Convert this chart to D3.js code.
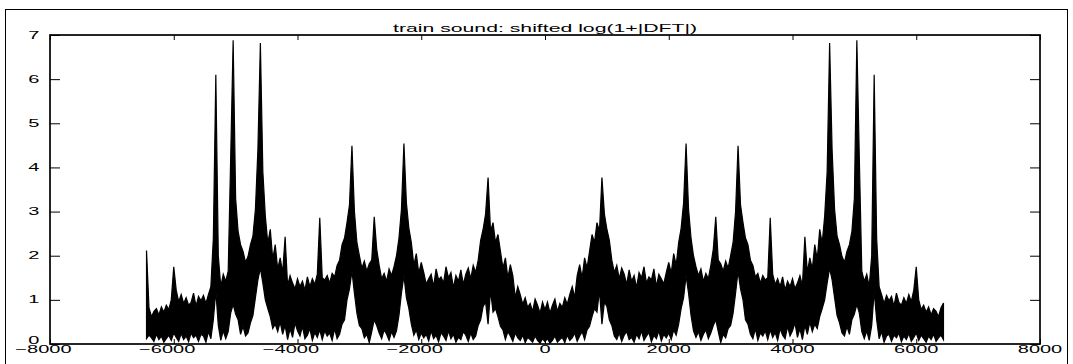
<!DOCTYPE html>
<html>
<head>
<meta charset="utf-8">
<script src="https://cdn.jsdelivr.net/npm/d3@7"></script>
<style>
  html, body { margin: 0; padding: 0; background: #fff; }
  svg { display: block; }
  text { font-family: "Liberation Sans", Arial, Helvetica, sans-serif; fill: #000; }
</style>
</head>
<body>
<svg id="chart" width="1073" height="364"></svg>
<script>
// Spectrum of the train recording: log(1+|DFT|), fftshift-ed so 0 Hz sits in the middle.
const title = "train sound: shifted log(1+|DFT|)";
const xTicks = [-8000, -6000, -4000, -2000, 0, 2000, 4000, 6000, 8000];
const yTicks = [0, 1, 2, 3, 4, 5, 6, 7];

// Frequency bins are 40 Hz apart, starting at 0 Hz.
const binHz = 40;

// Upper edge of the magnitude trace in each bin (0 .. 6440 Hz).
const magHi = [
  0.78, 0.95, 0.70, 0.88, 1.02, 0.74, 0.92, 0.83, 1.05, 0.90,
  1.12, 1.30, 1.05, 1.55, 1.80, 1.50, 1.95, 1.72, 2.10, 2.48,
  2.30, 2.75, 2.55, 3.77, 2.95, 2.60, 2.35, 1.90, 1.62, 1.78,
  1.48, 1.72, 1.58, 1.35, 1.68, 1.42, 1.55, 1.28, 1.62, 1.50,
  1.75, 1.38, 1.52, 1.45, 1.70, 1.30, 1.58, 1.48, 1.36, 1.62,
  1.85, 1.60, 2.05, 1.78, 2.30, 2.62, 3.20, 4.54, 3.05, 2.40,
  2.00, 1.75, 1.55, 1.70, 1.42, 1.60, 1.48, 1.78, 2.15, 2.88,
  1.90, 1.82, 1.65, 1.88, 1.72, 2.00, 2.30, 3.00, 4.49, 3.15,
  2.75, 2.40, 2.25, 1.90, 1.78, 1.52, 1.60, 1.38, 1.55, 1.45,
  1.50, 2.86, 1.58, 1.35, 1.48, 1.30, 1.52, 1.22, 1.42, 1.30,
  1.48, 1.25, 1.38, 1.55, 1.32, 2.43, 1.62, 1.95, 1.70, 2.25,
  1.92, 2.60, 2.28, 2.90, 3.90, 6.82, 4.40, 3.05, 2.45, 2.25,
  1.98, 1.85, 2.10, 2.25, 2.55, 3.30, 6.88, 4.20, 1.65, 1.42,
  1.58, 1.30, 2.00, 6.10, 2.40, 1.30, 1.12, 0.92, 1.10, 0.98,
  1.08, 0.86, 1.15, 0.94, 0.88, 1.05, 0.92, 1.12, 0.96, 1.22,
  1.75, 1.00, 0.78, 0.88, 0.72, 0.84, 0.66, 0.80, 0.74, 0.62,
  0.82, 0.93
];

// Lower edge of the magnitude trace in each bin (0 .. 6440 Hz).
const magLo = [
  0.05, 0.12, 0.02, 0.08, 0.18, 0.04, 0.10, 0.15, 0.03, 0.20,
  0.08, 0.14, 0.25, 0.06, 0.18, 0.28, 0.10, 0.32, 0.40, 0.62,
  0.80, 0.72, 1.22, 0.45, 0.95, 0.85, 0.55, 0.42, 0.18, 0.10,
  0.25, 0.06, 0.20, 0.28, 0.10, 0.15, 0.04, 0.22, 0.12, 0.30,
  0.08, 0.18, 0.26, 0.05, 0.20, 0.12, 0.30, 0.07, 0.22, 0.14,
  0.25, 0.10, 0.32, 0.20, 0.45, 0.80, 1.05, 1.55, 1.15, 0.65,
  0.30, 0.15, 0.28, 0.08, 0.22, 0.32, 0.12, 0.25, 0.42, 0.55,
  0.28, 0.03, 0.22, 0.14, 0.35, 0.42, 0.70, 1.15, 1.65, 1.25,
  1.00, 0.55, 0.45, 0.22, 0.12, 0.35, 0.08, 0.25, 0.18, 0.30,
  0.10, 0.32, 0.15, 0.26, 0.08, 0.35, 0.20, 0.12, 0.40, 0.18,
  0.30, 0.48, 0.15, 0.35, 0.10, 0.42, 0.22, 0.50, 0.28, 0.45,
  0.35, 0.62, 0.80, 1.00, 1.38, 1.72, 1.45, 1.05, 0.65, 0.48,
  0.25, 0.18, 0.40, 0.22, 0.55, 0.68, 0.90, 0.70, 0.28, 0.12,
  0.30, 0.08, 0.42, 1.20, 0.55, 0.12, 0.28, 0.04, 0.18, 0.22,
  0.06, 0.20, 0.14, 0.25, 0.05, 0.18, 0.10, 0.24, 0.06, 0.15,
  0.25, 0.08, 0.20, 0.12, 0.04, 0.18, 0.10, 0.22, 0.06, 0.14,
  0.20, 0.10
];

// The −fs/2 bin has no positive twin; its own magnitude range.
const nyquistHi = 2.12;
const nyquistLo = 0.12;

const svg = d3.select("#chart");
const x = d3.scaleLinear().domain([-8000, 8000]).range([50, 1040]);
const y = d3.scaleLinear().domain([0, 7]).range([344, 35]);

// figure frame
svg.append("rect")
  .attr("x", 5.5).attr("y", 9.5).attr("width", 1062).attr("height", 400)
  .attr("fill", "none").attr("stroke", "#000").attr("stroke-width", 1);

// |X(-f)| = |X(f)| for a real signal, so negative bins reuse the same magnitudes.
const last = magHi.length - 1;
const samples = [];
for (let i = last; i >= 1; i--) {
  samples.push({
    f: -i * binHz,
    hi: i === last ? nyquistHi : magHi[i],
    lo: i === last ? nyquistLo : magLo[i]
  });
}
for (let i = 0; i <= last; i++) {
  samples.push({ f: i * binHz, hi: magHi[i], lo: magLo[i] });
}

const band = d3.area()
  .x(d => x(d.f))
  .y0(d => y(d.lo))
  .y1(d => y(d.hi));

svg.append("path")
  .datum(samples)
  .attr("d", band)
  .attr("fill", "#000")
  .attr("stroke", "#000")
  .attr("stroke-width", 1.2)
  .attr("stroke-linejoin", "miter");

// inward ticks on all four sides
function ticksOnly(g) {
  g.select(".domain").remove();
  g.selectAll(".tick text").remove();
  g.selectAll(".tick line").attr("stroke", "#000").attr("stroke-width", 1);
}
svg.append("g").attr("transform", "translate(0,344)")
  .call(d3.axisBottom(x).tickValues(xTicks).tickSize(-5)).call(ticksOnly);
svg.append("g").attr("transform", "translate(0,35)")
  .call(d3.axisTop(x).tickValues(xTicks).tickSize(-5)).call(ticksOnly);
svg.append("g").attr("transform", "translate(50,0)")
  .call(d3.axisLeft(y).tickValues(yTicks).tickSize(-10)).call(ticksOnly);
svg.append("g").attr("transform", "translate(1040,0)")
  .call(d3.axisRight(y).tickValues(yTicks).tickSize(-10)).call(ticksOnly);

// axes box
svg.append("rect")
  .attr("x", 50).attr("y", 35).attr("width", 990).attr("height", 309)
  .attr("fill", "none").attr("stroke", "#000").attr("stroke-width", 1.7);

// tick labels (wide Helvetica look)
const fmt = d3.format("d");
const labels = svg.append("g").attr("font-size", 10);
xTicks.forEach(v => {
  const shift = v < 0 ? -6.5 : 0;
  labels.append("text")
    .attr("transform", `translate(${x(v) + shift},352.5) scale(2,1)`)
    .attr("text-anchor", "middle")
    .text(fmt(v));
});
yTicks.forEach(v => {
  const base = v === 0 ? 343.5 : y(v) + 3.6;
  labels.append("text")
    .attr("transform", `translate(39.5,${base}) scale(2,1)`)
    .attr("text-anchor", "end")
    .text(fmt(v));
});

svg.append("text")
  .attr("transform", "translate(545,31.5) scale(1.93,1)")
  .attr("text-anchor", "middle")
  .attr("font-size", 11)
  .text(title);
</script>
</body>
</html>
